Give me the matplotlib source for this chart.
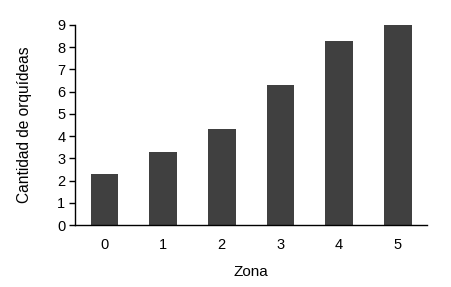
import numpy as np
import matplotlib.pyplot as plt

plt.rcParams['font.family'] = ['Liberation Sans', 'DejaVu Sans']

zonas = ['0', '1', '2', '3', '4', '5']
orquideas = [2.3, 3.3, 4.3, 6.3, 8.3, 9.0]

fig = plt.figure(figsize=(4.52, 2.87), dpi=100)
ax = fig.add_axes([0.166, 0.216, 0.779, 0.697])

x = np.arange(len(zonas))
ax.bar(x, orquideas, width=0.47, color='#404040')

ax.set_xlim(-0.5, 5.5)
ax.set_ylim(0, 9)
ax.set_yticks(range(0, 10))
ax.set_xticks(x)
ax.set_xticklabels(zonas)

for s in ['top', 'right']:
    ax.spines[s].set_visible(False)
for s in ['left', 'bottom']:
    ax.spines[s].set_linewidth(1.0)
    ax.spines[s].set_color('black')

ax.tick_params(axis='x', length=0, pad=9, labelsize=10.5)
ax.tick_params(axis='y', direction='out', length=4, width=1, pad=3, labelsize=10.5)

ax.set_xlabel('Zona', fontsize=11, labelpad=10)
ax.set_ylabel('Cantidad de orquídeas', fontsize=11.2, labelpad=18)

fig.savefig('out.png', dpi=100)
